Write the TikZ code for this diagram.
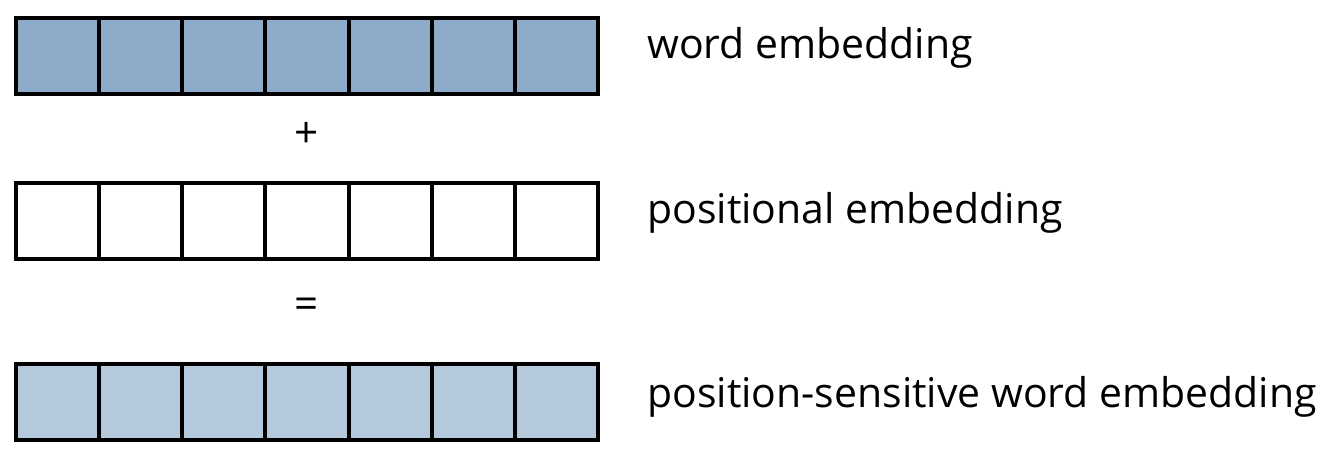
\documentclass[tikz,border=0pt]{standalone}
\usepackage{fontspec}
\setmainfont{Open Sans}
\usepackage{tikz}
\definecolor{wordblue}{RGB}{141, 172, 201}
\definecolor{sumblue}{RGB}{180, 201, 219}
\usetikzlibrary{positioning}

\begin{document}
\begin{tikzpicture}[
    x=0.02cm, y=-0.02cm,
    cell/.style={rectangle, draw=black, line width=0.08cm,
                minimum width=1.6629cm, minimum height=1.54cm, inner sep=0pt},
    rowtext/.style={anchor=base west, inner sep=0pt, font=\fontsize{23.3}{28}\selectfont},
    opsign/.style={inner sep=0pt, font=\fontsize{24}{28}\selectfont}
]
    \useasboundingbox (0,0) rectangle (1340,460);

    % Rows of cells
    \foreach \i in {1,...,7} {
        \node[cell, fill=wordblue] (w\i) at ({16+83.14*(\i-0.5)}, 56) {};
        \node[cell, fill=white] (p\i) at ({16+83.14*(\i-0.5)}, 221) {};
        \node[cell, fill=sumblue] (s\i) at ({16+83.14*(\i-0.5)}, 402) {};
    }

    % Operators
    \node[opsign] (plus) at (307, 135) {+};
    \node[opsign] (equals) at (307, 308) {=};

    % Labels
    \node[rowtext] (wordlab) at (647, 58) {word embedding};
    \node[rowtext] (poslab) at (647, 223) {positional embedding};
    \node[rowtext] (sumlab) at (647, 407) {position-sensitive word embedding};
\end{tikzpicture}
\end{document}
